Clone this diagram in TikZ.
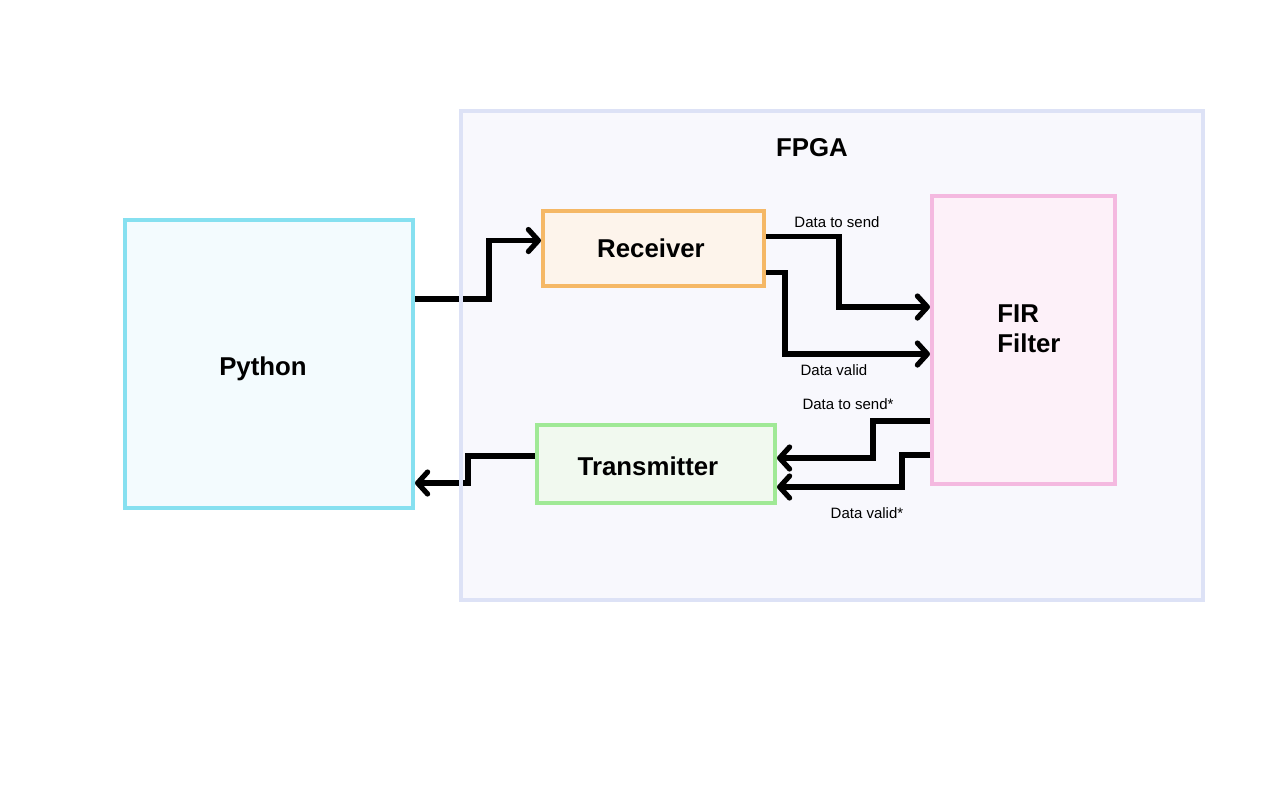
\documentclass[tikz,border=0pt]{standalone}
\usepackage{fontspec}
\setmainfont{Liberation Sans}
\usetikzlibrary{arrows.meta, calc}
\tikzset{>={Straight Barb[length=5pt,width=11pt,round]}}

\definecolor{pyline}{HTML}{86E0F0}
\definecolor{pyfill}{HTML}{F3FBFE}
\definecolor{rxline}{HTML}{F5B866}
\definecolor{rxfill}{HTML}{FDF4EB}
\definecolor{firline}{HTML}{F4B9E0}
\definecolor{firfill}{HTML}{FDF1F9}
\definecolor{txline}{HTML}{A0E996}
\definecolor{txfill}{HTML}{F1F9EF}
\definecolor{fpgaline}{HTML}{DDE2F6}
\definecolor{fpgafill}{HTML}{F8F8FD}

\tikzset{
  blockbox/.style={draw, line width=2pt, inner sep=0pt},
  blockname/.style={inner sep=0pt, font=\fontsize{12.9}{15}\selectfont\bfseries},
  wire/.style={->, line width=2.6pt, line join=miter},
  siglabel/.style={font=\fontsize{7.5}{9}\selectfont, inner sep=0pt}
}

\begin{document}
\begin{tikzpicture}[x=0.5pt, y=-0.5pt]
\useasboundingbox (0,0) rectangle (1280,799);
% FPGA area
\node[fill=fpgafill, minimum width=371pt, minimum height=244.5pt, inner sep=0pt] (fpga) at (832,355.5) {};
\node[blockname] (fpgatitle) at (812,148) {FPGA};
% blocks
\node[blockbox, draw=pyline, fill=pyfill, minimum width=144pt, minimum height=144pt] (python) at (269,364) {};
\node[blockbox, draw=rxline, fill=rxfill, minimum width=110.5pt, minimum height=37.5pt] (receiver) at (653.5,248.5) {};
\node[blockbox, draw=firline, fill=firfill, minimum width=91.5pt, minimum height=144pt] (fir) at (1023.5,340) {};
\node[blockbox, draw=txline, fill=txfill, minimum width=119pt, minimum height=39pt] (transmitter) at (656,464) {};
% block names
\node[blockname] (pythonname) at (263,369) {Python};
\node[blockname] (receivername) at (651,248) {Receiver};
\node[blockname, anchor=west, align=left] (firname) at (997,329) {FIR\\Filter};
\node[blockname] (transmittername) at (648,466) {Transmitter};
% connectors
\draw[wire] ($(python.east)+(0,-65)$) -- ++(74,0) |- ($(receiver.west)+(0,-8)$);
\draw[wire] ($(receiver.east)+(0,-12)$) -- ++(73,0) |- ($(fir.west)+(0,-33)$);
\draw[wire] ($(receiver.east)+(0,24)$) -- ++(19,0) |- ($(fir.west)+(0,14)$);
\draw[wire] ($(fir.west)+(0,81)$) -- ++(-57,0) |- ($(transmitter.east)+(0,-6)$);
\draw[wire] ($(fir.west)+(0,115)$) -- ++(-28,0) |- ($(transmitter.east)+(0,23)$);
\draw[wire] ($(transmitter.west)+(0,-8)$) -- ++(-67,0) |- ($(python.east)+(0,119)$);
% signal names
\node[siglabel] (sendlbl) at (837,222) {Data to send};
\node[siglabel] (validlbl) at (834,370) {Data valid};
\node[siglabel] (sendbacklbl) at (848,404) {Data to send*};
\node[siglabel] (validbacklbl) at (867,513) {Data valid*};
% FPGA border on top
\draw[fpgaline, line width=2pt] (fpga.north west) rectangle (fpga.south east);
\end{tikzpicture}
\end{document}
